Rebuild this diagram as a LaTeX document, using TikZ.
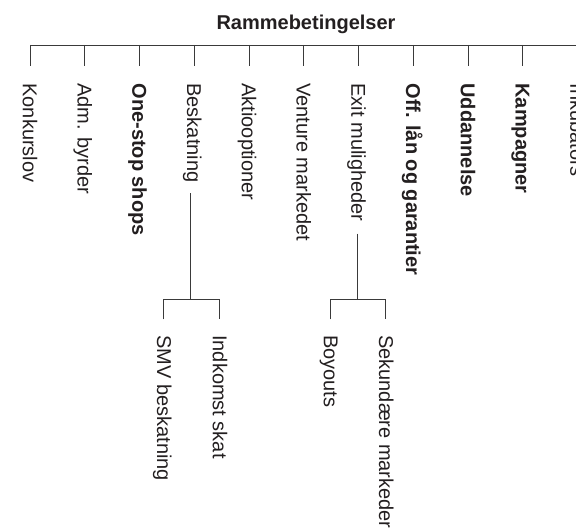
\documentclass[tikz,border=0pt]{standalone}
\usepackage{fontspec}
\setmainfont{Liberation Sans}
\usetikzlibrary{calc}
\definecolor{ink}{HTML}{231F20}
\definecolor{wire}{HTML}{3A3A3A}
\begin{document}
\begin{tikzpicture}[x=1pt,y=-1pt,
  wirestyle/.style={draw=wire,line width=0.8pt},
  lbl/.style={rotate=-90,anchor=west,inner sep=0pt,text height=14.3pt,text depth=0pt,
    text=ink,font=\fontsize{20}{24}\selectfont},
  blbl/.style={lbl,font=\fontsize{20}{24}\selectfont\bfseries},
  titlestyle/.style={inner sep=0pt,text height=14.3pt,text depth=0pt,text=ink,
    font=\fontsize{20}{24}\selectfont\bfseries}]
\useasboundingbox (0,0) rectangle (576,532);

% title
\node[titlestyle] (title) at (306,22.5) {Rammebetingelser};

% main bus
\foreach \i/\x in {1/30,2/84.75,3/139.5,4/194.25,5/249,6/303.75,7/358.5,8/413.25,9/468,10/522.75,11/577.5}{
  \coordinate (t\i) at (\x,45);
  \coordinate (b\i) at (\x,66);
}
\draw[wirestyle] (t1) -- (t11);
\foreach \i in {1,...,11}{ \draw[wirestyle] (t\i) -- (b\i); }

% top-level labels
\node[lbl]  (n1)  at (30,83.3)     {Konkurslov};
\node[lbl]  (n2)  at (84.75,83.3)  {Adm. byrder};
\node[blbl] (n3)  at (139.5,83.3)  {One-stop shops};
\node[lbl]  (n4)  at (194.25,83.3) {Beskatning};
\node[lbl]  (n5)  at (249,83.3)    {Aktiooptioner};
\node[lbl]  (n6)  at (303.75,83.3) {Venture markedet};
\node[lbl]  (n7)  at (358.5,83.3)  {Exit muligheder};
\node[blbl] (n8)  at (413.25,83.3) {Off. lån og garantier};
\node[blbl] (n9)  at (468,83.3)    {Uddannelse};
\node[blbl] (n10) at (522.75,83.3) {Kampagner};
\node[lbl]  (n11) at (577.5,83.3)  {Inkubators};

% Beskatning sub-branch
\coordinate (bj) at (190.7,299.3);
\coordinate (bl) at (163.3,299.3);
\coordinate (br) at (219,299.3);
\coordinate (blb) at (163.3,319.3);
\coordinate (brb) at (219,319.3);
\draw[wirestyle] ($(bj |- n4.east)+(0,10.5)$) -- (bj);
\draw[wirestyle] (blb) -- (bl) -- (br) -- (brb);
\node[lbl] (s1) at (164.2,335) {SMV beskatning};
\node[lbl] (s2) at (220,335)   {Indkomst skat};

% Exit sub-branch
\coordinate (ej) at (357.7,299.3);
\coordinate (el) at (330.5,299.3);
\coordinate (er) at (385.7,299.3);
\coordinate (elb) at (330.5,319.3);
\coordinate (erb) at (385.7,319.3);
\draw[wirestyle] ($(ej |- n7.east)+(0,12)$) -- (ej);
\draw[wirestyle] (elb) -- (el) -- (er) -- (erb);
\node[lbl] (s3) at (331,335)   {Boyouts};
\node[lbl] (s4) at (386.3,335) {Sekundære markeder};
\end{tikzpicture}
\end{document}
